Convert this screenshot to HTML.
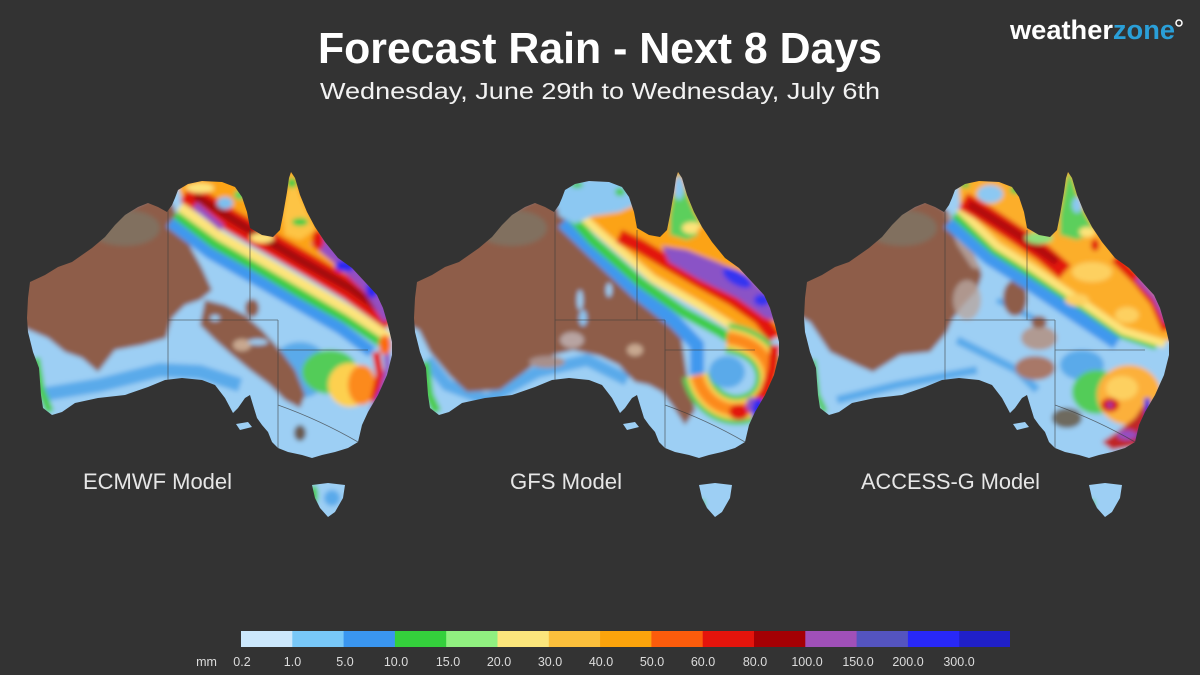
<!DOCTYPE html>
<html><head><meta charset="utf-8"><style>
html,body{margin:0;padding:0;background:#333;}
svg{display:block;}
text{font-family:"Liberation Sans",sans-serif;}
</style></head><body>
<svg width="1200" height="675" viewBox="0 0 1200 675" xmlns="http://www.w3.org/2000/svg">
<defs>
<clipPath id="ca"><path d="M27,318 L28,298 L30,282 L45,275 L58,267 L72,262 L92,248 L105,237 L115,225 L125,215 L138,207 L148,203 L158,207 L167,212 L172,205 L175,198 L178,190 L188,184 L202,181 L222,182 L235,187 L242,197 L247,212 L250,228 L262,235 L273,237 L280,230 L283,215 L287,192 L289,178 L291,172 L295,178 L300,195 L307,212 L315,227 L325,242 L338,258 L352,268 L365,282 L377,295 L383,308 L388,325 L392,342 L392,355 L387,375 L378,395 L368,412 L362,425 L358,442 L348,448 L335,452 L322,455 L312,458 L302,455 L288,452 L278,448 L272,442 L268,432 L262,425 L257,418 L253,405 L250,395 L245,398 L238,408 L233,413 L225,398 L215,385 L202,380 L182,378 L165,380 L148,387 L125,395 L98,398 L75,403 L62,412 L52,415 L43,408 L41,395 L39,368 L33,352 L28,332 Z M312,485 L328,483 L345,485 L343,498 L335,512 L328,517 L320,508 L315,498 Z M236,424 L248,422 L252,427 L240,430 Z"/></clipPath>
<filter id="bl" x="-10%" y="-10%" width="120%" height="120%"><feGaussianBlur stdDeviation="2.4"/></filter>
</defs>
<rect width="1200" height="675" fill="#333"/>

<!-- MAP 1 ECMWF -->
<g clip-path="url(#ca)">
<g filter="url(#bl)">
<rect x="0" y="150" width="420" height="380" fill="#9dcff4"/>
<path d="M40,395 L100,385 L160,370 L200,372 L240,385" stroke="#5aaaea" stroke-width="14" fill="none"/>
<ellipse cx="300" cy="370" rx="30" ry="28" fill="#5aaaea"/>
<path d="M10,280 L72,255 L125,210 L150,198 L172,203 L180,225 L192,250 L202,268 L212,290 L200,300 L185,305 L172,318 L166,338 L142,345 L115,350 L98,372 L82,358 L65,352 L48,338 L10,322 Z" fill="#8e5d49"/>
<path d="M205,300 L225,305 L245,315 L262,330 L280,350 L295,370 L305,395 L300,408 L285,400 L270,385 L250,370 L232,355 L215,340 L200,325 Z" fill="#8e5d49"/>
<ellipse cx="252" cy="308" rx="7" ry="9" fill="#8e5d49"/>
<ellipse cx="300" cy="433" rx="6" ry="8" fill="#6b5a4e"/>
<ellipse cx="242" cy="345" rx="9" ry="6" fill="#c8a890"/>
<ellipse cx="125" cy="228" rx="35" ry="18" fill="#7e7664" opacity="0.8"/>
<ellipse cx="215" cy="318" rx="5" ry="3" fill="#9dcff4"/>
<ellipse cx="258" cy="342" rx="10" ry="3" fill="#9dcff4"/>
<path d="M170,222 L210,253 L252,277 L295,302 L340,328 L372,352" stroke="#3f98ee" stroke-width="12" fill="none"/>
<path d="M176,214 L215,244 L258,268 L300,293 L345,318 L385,345" stroke="#3ccc46" stroke-width="10" fill="none"/>
<path d="M180,207 L220,236 L262,260 L305,285 L348,310 L390,338" stroke="#fde47a" stroke-width="10" fill="none"/>
<path d="M182,199 L222,228 L264,252 L307,277 L350,302 L395,330 L400,160 L170,160 Z" fill="#fca318"/>
<path d="M186,192 L230,220 L270,243 L310,266 L350,290 L392,320" stroke="#e2180e" stroke-width="22" fill="none"/>
<path d="M195,196 L240,224 L300,260 L350,288 L385,313" stroke="#a00a08" stroke-width="8" fill="none"/>
<path d="M195,205 L222,228" stroke="#9a4ec0" stroke-width="7" fill="none"/>
<path d="M316,238 L345,262 L372,288 L390,318" stroke="#9450c2" stroke-width="16" fill="none"/>
<ellipse cx="345" cy="266" rx="10" ry="6" fill="#2c2cf0"/>
<ellipse cx="372" cy="290" rx="6" ry="8" fill="#2c2cf0"/>
<path d="M283,215 L287,192 L291,172 L295,178 L300,195 L307,212 L315,230 L300,240 L285,235 Z" fill="#fdc444"/>
<ellipse cx="292" cy="183" rx="5" ry="5" fill="#3ccc46"/>
<ellipse cx="300" cy="222" rx="8" ry="4" fill="#3ccc46"/>
<ellipse cx="318" cy="240" rx="6" ry="10" fill="#e2180e"/>
<ellipse cx="225" cy="203" rx="8" ry="6" fill="#7cc0f0"/>
<ellipse cx="240" cy="195" rx="6" ry="5" fill="#5cd25c"/>
<ellipse cx="200" cy="188" rx="14" ry="5" fill="#fde47a"/>
<ellipse cx="262" cy="238" rx="12" ry="5" fill="#fde47a"/>
<ellipse cx="330" cy="372" rx="28" ry="22" fill="#52cc58"/>
<ellipse cx="350" cy="385" rx="22" ry="22" fill="#fdd050"/>
<ellipse cx="362" cy="385" rx="14" ry="20" fill="#fc8a1c"/>
<path d="M376,352 L380,375 L374,402" stroke="#e2180e" stroke-width="8" fill="none"/>
<path d="M386,345 L388,368 L382,392 L372,412" stroke="#9450c2" stroke-width="6" fill="none"/>
<ellipse cx="382" cy="398" rx="4" ry="8" fill="#2c2cf0"/>
<ellipse cx="385" cy="345" rx="6" ry="10" fill="#fc6a10"/>
<path d="M36,358 L41,390 L50,412" stroke="#4ccc4c" stroke-width="8" fill="none"/>
<ellipse cx="314" cy="495" rx="4" ry="10" fill="#4ccc4c"/>
<ellipse cx="332" cy="498" rx="8" ry="8" fill="#5aaaea"/>
</g>
<g stroke="#3a3a3a" stroke-width="0.8" fill="none" opacity="0.7">
<path d="M168,208 L168,380 M168,320 L278,320 M250,230 L250,320 M278,320 L278,448 M278,350 L368,350 M278,405 Q320,420 358,442"/>
</g>
</g>

<!-- MAP 2 GFS -->
<g transform="translate(387,0)">
<g clip-path="url(#ca)">
<g filter="url(#bl)">
<rect x="0" y="150" width="420" height="380" fill="#9dcff4"/>
<path d="M40,360 L60,385 L100,400 L150,372 L200,360 L240,380" stroke="#5aaaea" stroke-width="12" fill="none"/>
<path d="M10,280 L72,255 L125,210 L150,198 L168,205 L172,212 L193,232 L215,252 L238,272 L260,292 L280,310 L292,325 L296,348 L300,375 L308,410 L298,425 L285,405 L275,392 L262,385 L248,382 L238,372 L232,365 L213,356 L186,350 L170,354 L153,360 L140,370 L113,390 L80,392 L63,376 L43,352 L32,330 L10,320 Z" fill="#8e5d49"/>
<ellipse cx="160" cy="362" rx="18" ry="6" fill="#a8908c"/>
<ellipse cx="185" cy="340" rx="12" ry="8" fill="#b8a4a2"/>
<ellipse cx="222" cy="290" rx="3" ry="7" fill="#9dcff4"/>
<ellipse cx="193" cy="300" rx="3" ry="10" fill="#9dcff4"/>
<ellipse cx="196" cy="318" rx="4" ry="8" fill="#8cc4f0"/>
<ellipse cx="125" cy="228" rx="35" ry="18" fill="#7e7664" opacity="0.8"/>
<ellipse cx="248" cy="350" rx="8" ry="6" fill="#c8a890"/>
<path d="M176,222 L205,250 L250,292 L288,322 L310,345 L310,375" stroke="#3f98ee" stroke-width="14" fill="none"/>
<path d="M182,214 L205,240 L253,282 L296,312 L333,332 L352,345" stroke="#3ccc46" stroke-width="10" fill="none"/>
<path d="M186,206 L213,230 L266,276 L313,303 L346,323 L372,338 L400,338 L400,160 L180,160 Z" fill="#fca318"/>
<path d="M188,210 L213,233 L266,279 L313,306 L346,327 L370,340" stroke="#fde47a" stroke-width="8" fill="none"/>
<path d="M232,236 L253,246 L280,262 L313,281 L346,299 L373,318 L388,338" stroke="#e2180e" stroke-width="14" fill="none"/>
<path d="M275,246 L300,250 L330,262 L360,275 L385,298 L393,322 L378,318 L350,298 L313,280 L282,262 Z" fill="#8a52c6"/>
<ellipse cx="350" cy="278" rx="16" ry="7" fill="#3434f0" transform="rotate(30 350 278)"/>
<ellipse cx="375" cy="300" rx="8" ry="6" fill="#3434f0"/>
<path d="M165,178 L250,178 L248,205 L232,212 L205,216 L188,224 L172,216 Z" fill="#8cc8f2"/>
<ellipse cx="190" cy="185" rx="6" ry="3" fill="#4ccc4c"/>
<ellipse cx="233" cy="192" rx="5" ry="4" fill="#4ccc4c"/>
<path d="M283,215 L287,192 L291,172 L295,178 L300,195 L307,212 L318,232 L300,240 L283,235 Z" fill="#5ccf5c"/>
<ellipse cx="292" cy="188" rx="5" ry="12" fill="#8cc8f2"/>
<ellipse cx="305" cy="228" rx="10" ry="6" fill="#fde47a"/>
<ellipse cx="315" cy="232" rx="5" ry="5" fill="#fca318"/>
<path d="M340,338 C392,345 392,392 368,405 C345,418 316,404 310,375" stroke="#52cc58" stroke-width="30" fill="none"/>
<path d="M340,338 C392,345 392,392 368,405 C345,418 316,404 310,375" stroke="#fdd050" stroke-width="20" fill="none"/>
<path d="M340,338 C392,345 392,392 368,405 C345,418 316,404 310,375" stroke="#fc8a1c" stroke-width="12" fill="none"/>
<ellipse cx="340" cy="372" rx="18" ry="16" fill="#5aaaea"/>
<path d="M388,345 L386,370 L378,392 L368,405" stroke="#e2180e" stroke-width="10" fill="none"/>
<ellipse cx="352" cy="412" rx="10" ry="8" fill="#e2180e"/>
<ellipse cx="365" cy="405" rx="6" ry="8" fill="#8a52c6"/>
<ellipse cx="372" cy="412" rx="7" ry="14" fill="#2c2cf0"/>
<path d="M38,362 L42,395 L50,412" stroke="#4ccc4c" stroke-width="9" fill="none"/>
<ellipse cx="315" cy="505" rx="3" ry="6" fill="#4ccc4c"/>
</g>
<g stroke="#3a3a3a" stroke-width="0.8" fill="none" opacity="0.7">
<path d="M168,208 L168,380 M168,320 L278,320 M250,230 L250,320 M278,320 L278,448 M278,350 L368,350 M278,405 Q320,420 358,442"/>
</g>
</g>
</g>

<!-- MAP 3 ACCESS-G -->
<g transform="translate(777,0)">
<g clip-path="url(#ca)">
<g filter="url(#bl)">
<rect x="0" y="150" width="420" height="380" fill="#9dcff4"/>
<path d="M60,400 L120,385 L200,370" stroke="#5aaaea" stroke-width="8" fill="none"/>
<path d="M180,340 L240,370 L260,390" stroke="#5aaaea" stroke-width="8" fill="none"/>
<path d="M220,300 L260,320" stroke="#5aaaea" stroke-width="6" fill="none"/>
<path d="M10,280 L72,255 L125,210 L150,198 L170,210 L180,225 L192,245 L200,262 L205,275 L200,290 L186,305 L175,320 L170,332 L153,352 L123,355 L96,372 L80,365 L53,352 L33,322 L10,310 Z" fill="#8e5d49"/>
<path d="M168,212 L185,225 L200,262 L205,270 L195,268 L180,245 Z" fill="#b09a92"/>
<ellipse cx="190" cy="300" rx="14" ry="20" fill="#b8a6a0" opacity="0.8"/>
<ellipse cx="125" cy="228" rx="35" ry="18" fill="#7e7664" opacity="0.8"/>
<ellipse cx="238" cy="298" rx="12" ry="18" fill="#8e5d49"/>
<ellipse cx="262" cy="338" rx="18" ry="12" fill="#b09a92"/>
<ellipse cx="258" cy="368" rx="20" ry="12" fill="#a87868"/>
<ellipse cx="290" cy="418" rx="15" ry="10" fill="#6e6a5e"/>
<ellipse cx="262" cy="322" rx="8" ry="6" fill="#8e5d49"/>
<path d="M172,222 L212,258 L250,282 L300,316 L340,343" stroke="#3f98ee" stroke-width="14" fill="none"/>
<path d="M178,214 L218,250 L253,272 L306,306 L346,334 L380,345" stroke="#3ccc46" stroke-width="10" fill="none"/>
<path d="M183,205 L222,243 L256,265 L306,300 L346,328 L395,342 L400,160 L180,160 Z" fill="#fcae2c"/>
<path d="M182,209 L220,246 L255,268 L306,303 L346,331 L388,344" stroke="#fde47a" stroke-width="8" fill="none"/>
<ellipse cx="315" cy="272" rx="20" ry="10" fill="#fdd060"/>
<ellipse cx="300" cy="300" rx="12" ry="6" fill="#fdd060"/>
<ellipse cx="350" cy="315" rx="12" ry="8" fill="#fdd060"/>
<path d="M186,201 L210,215 L240,235 L266,253 L288,272" stroke="#e2180e" stroke-width="18" fill="none"/>
<path d="M192,204 L240,234 L280,262" stroke="#b00c08" stroke-width="8" fill="none"/>
<path d="M338,258 L360,280 L378,302 L390,330" stroke="#e2180e" stroke-width="10" fill="none"/>
<path d="M360,278 L378,298 L390,322" stroke="#9450c2" stroke-width="5" fill="none"/>
<path d="M283,215 L287,192 L291,172 L295,178 L300,195 L307,212 L318,232 L300,240 L283,235 Z" fill="#5ccf5c"/>
<ellipse cx="300" cy="205" rx="5" ry="8" fill="#8cc8f2"/>
<ellipse cx="310" cy="232" rx="8" ry="5" fill="#fde47a"/>
<ellipse cx="318" cy="245" rx="4" ry="6" fill="#e2180e"/>
<ellipse cx="213" cy="194" rx="13" ry="9" fill="#8cc8f2"/>
<ellipse cx="188" cy="185" rx="5" ry="3" fill="#4ccc4c"/>
<ellipse cx="238" cy="190" rx="5" ry="4" fill="#4ccc4c"/>
<ellipse cx="262" cy="238" rx="14" ry="6" fill="#8ee07a"/>
<ellipse cx="305" cy="365" rx="22" ry="15" fill="#5aaaea"/>
<ellipse cx="320" cy="392" rx="25" ry="22" fill="#52cc58"/>
<ellipse cx="352" cy="395" rx="32" ry="30" fill="#fcb03a"/>
<ellipse cx="345" cy="388" rx="16" ry="12" fill="#fdd060"/>
<ellipse cx="333" cy="405" rx="9" ry="7" fill="#d81010"/>
<circle cx="333" cy="405" r="3" fill="#8a40b0"/>
<path d="M325,442 L340,432 L358,418 L370,400 L376,410 L372,432 L360,446 L335,450 Z" fill="#c02828"/>
<path d="M370,398 L372,420 L362,440" stroke="#2828e0" stroke-width="6" fill="none"/>
<ellipse cx="350" cy="435" rx="10" ry="5" fill="#9450c2"/>
<path d="M36,360 L40,395 L48,412" stroke="#4ccc4c" stroke-width="6" fill="none"/>
<ellipse cx="315" cy="505" rx="3" ry="6" fill="#4ccc4c"/>
</g>
<g stroke="#3a3a3a" stroke-width="0.8" fill="none" opacity="0.7">
<path d="M168,208 L168,380 M168,320 L278,320 M250,230 L250,320 M278,320 L278,448 M278,350 L368,350 M278,405 Q320,420 358,442"/>
</g>
</g>
</g>

<!-- Titles -->
<text x="600" y="63" text-anchor="middle" font-size="44" font-weight="bold" fill="#ffffff" textLength="564" lengthAdjust="spacingAndGlyphs">Forecast Rain - Next 8 Days</text>
<text x="600" y="99" text-anchor="middle" font-size="23" fill="#f2f2f2" textLength="560" lengthAdjust="spacingAndGlyphs">Wednesday, June 29th to Wednesday, July 6th</text>

<!-- Logo -->
<text x="1010" y="39" font-size="27" font-weight="bold" textLength="165" lengthAdjust="spacingAndGlyphs"><tspan fill="#ffffff">weather</tspan><tspan fill="#2a9fd8">zone</tspan></text>
<circle cx="1179" cy="23" r="3" stroke="#ffffff" stroke-width="1.5" fill="none"/>

<!-- Model labels -->
<text x="83" y="489" font-size="22" fill="#e6e6e6" textLength="149" lengthAdjust="spacingAndGlyphs">ECMWF Model</text>
<text x="510" y="489" font-size="22" fill="#e6e6e6" textLength="112" lengthAdjust="spacingAndGlyphs">GFS Model</text>
<text x="861" y="489" font-size="22" fill="#e6e6e6" textLength="179" lengthAdjust="spacingAndGlyphs">ACCESS-G Model</text>

<!-- Legend -->
<g>
<rect x="241" y="631" width="51.8" height="16" fill="#cce8fc"/>
<rect x="292.3" y="631" width="51.8" height="16" fill="#78c8f8"/>
<rect x="343.6" y="631" width="51.8" height="16" fill="#3a96f0"/>
<rect x="394.9" y="631" width="51.8" height="16" fill="#34d03c"/>
<rect x="446.2" y="631" width="51.8" height="16" fill="#90f080"/>
<rect x="497.5" y="631" width="51.8" height="16" fill="#fce67c"/>
<rect x="548.8" y="631" width="51.8" height="16" fill="#fcc03c"/>
<rect x="600.1" y="631" width="51.8" height="16" fill="#fca40c"/>
<rect x="651.4" y="631" width="51.8" height="16" fill="#fc5c0c"/>
<rect x="702.7" y="631" width="51.8" height="16" fill="#e4140c"/>
<rect x="754" y="631" width="51.8" height="16" fill="#a40004"/>
<rect x="805.3" y="631" width="51.8" height="16" fill="#a050b8"/>
<rect x="856.6" y="631" width="51.8" height="16" fill="#5454c0"/>
<rect x="907.9" y="631" width="51.8" height="16" fill="#2828f8"/>
<rect x="959.2" y="631" width="50.8" height="16" fill="#2020c8"/>
</g>
<g font-size="12.5" fill="#dcdcdc" text-anchor="middle">
<text x="206.5" y="666">mm</text>
<text x="242" y="666">0.2</text>
<text x="292.5" y="666">1.0</text>
<text x="345" y="666">5.0</text>
<text x="396" y="666">10.0</text>
<text x="448" y="666">15.0</text>
<text x="499" y="666">20.0</text>
<text x="550" y="666">30.0</text>
<text x="601" y="666">40.0</text>
<text x="652" y="666">50.0</text>
<text x="703" y="666">60.0</text>
<text x="755" y="666">80.0</text>
<text x="807" y="666">100.0</text>
<text x="858" y="666">150.0</text>
<text x="908" y="666">200.0</text>
<text x="959" y="666">300.0</text>
</g>
</svg>
</body></html>
